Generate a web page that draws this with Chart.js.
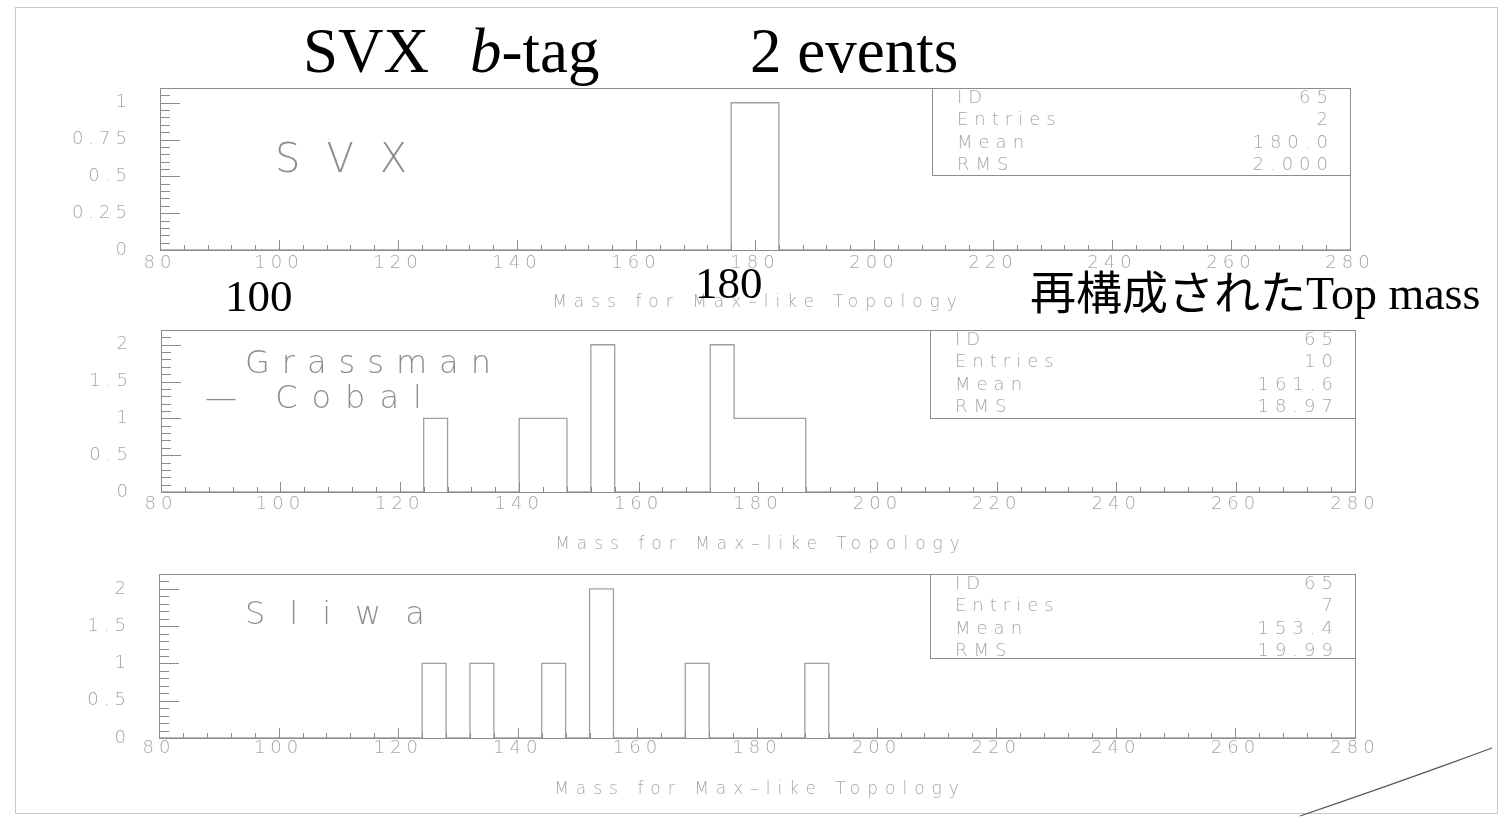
<!DOCTYPE html>
<html>
<head>
<meta charset="utf-8">
<script src="https://cdn.jsdelivr.net/npm/chart.js@4.4.1/dist/chart.umd.min.js"></script>
<style>
  html, body { margin: 0; padding: 0; background: #fff; }
  #page { position: relative; width: 1502px; height: 817px; overflow: hidden; background: #fff; }
  .sheet { position: absolute; left: 15px; top: 7px; width: 1483px; height: 807px; border: 1px solid #c8c8c8; box-sizing: border-box; }
  canvas.panel { position: absolute; left: 0; }
  .slide { position: absolute; font-family: "Liberation Serif", "Times New Roman", serif; color: #000; white-space: nowrap; line-height: 1; z-index: 5; }
  .slide .jp { font-family: "Noto Sans CJK JP", sans-serif; }
  .hand { position: absolute; font-family: "DejaVu Sans", sans-serif; font-weight: 200; color: #8e8e8e; white-space: nowrap; line-height: 1; z-index: 4; }
  svg.corner { position: absolute; left: 0; top: 0; z-index: 3; }
</style>
</head>
<body>
<div id="page">
  <div class="sheet"></div>

  <canvas id="panel-svx" class="panel" width="1502" height="242" style="top:78px"></canvas>
  <canvas id="panel-gc" class="panel" width="1502" height="242" style="top:320px"></canvas>
  <canvas id="panel-sliwa" class="panel" width="1502" height="244" style="top:564px"></canvas>

  <div class="slide" style="left:303px; top:20px; font-size:63px">SVX</div>
  <div class="slide" style="left:470px; top:20px; font-size:63px"><i>b</i>-tag</div>
  <div class="slide" style="left:750px; top:20px; font-size:63px">2 events</div>
  <div class="slide" style="left:225px; top:274px; font-size:45px">100</div>
  <div class="slide" style="left:695px; top:261px; font-size:45px">180</div>
  <div class="slide" style="left:1030px; top:266px; font-size:46px"><span class="jp">再構成された</span>Top mass</div>

  <div class="hand" style="left:275px; top:138px; font-size:40px; letter-spacing:26px">SVX</div>
  <div class="hand" style="left:245px; top:346px; font-size:32px; letter-spacing:12px">Grassman</div>
  <div class="hand" style="left:205px; top:381px; font-size:32px; letter-spacing:14px">— Cobal</div>
  <div class="hand" style="left:245px; top:597px; font-size:32px; letter-spacing:24px">Sliwa</div>

  <svg class="corner" width="1502" height="817">
    <path d="M1300 816 Q1400 782 1492 748" fill="none" stroke="#555" stroke-width="1.3"/>
  </svg>
</div>

<script>
// bin edges of the PAW histogram (4 GeV bins from 80 to 280)
const binEdges = [
  80, 84, 88, 92, 96, 100, 104, 108, 112, 116,
  120, 124, 128, 132, 136, 140, 144, 148, 152, 156,
  160, 164, 168, 172, 176, 180, 184, 188, 192, 196,
  200, 204, 208, 212, 216, 220, 224, 228, 232, 236,
  240, 244, 248, 252, 256, 260, 264, 268, 272, 276,
  280,
]

// entries per bin, one array per panel
const svxCounts = [
  0, 0, 0, 0, 0, 0, 0, 0, 0, 0,
  0, 0, 0, 0, 0, 0, 0, 0, 0, 0,
  0, 0, 0, 0, 1, 1, 0, 0, 0, 0,
  0, 0, 0, 0, 0, 0, 0, 0, 0, 0,
  0, 0, 0, 0, 0, 0, 0, 0, 0, 0,
]
const grassmanCobalCounts = [
  0, 0, 0, 0, 0, 0, 0, 0, 0, 0,
  0, 1, 0, 0, 0, 1, 1, 0, 2, 0,
  0, 0, 0, 2, 1, 1, 1, 0, 0, 0,
  0, 0, 0, 0, 0, 0, 0, 0, 0, 0,
  0, 0, 0, 0, 0, 0, 0, 0, 0, 0,
]
const sliwaCounts = [
  0, 0, 0, 0, 0, 0, 0, 0, 0, 0,
  0, 1, 0, 1, 0, 0, 1, 0, 2, 0,
  0, 0, 1, 0, 0, 0, 0, 1, 0, 0,
  0, 0, 0, 0, 0, 0, 0, 0, 0, 0,
  0, 0, 0, 0, 0, 0, 0, 0, 0, 0,
]

const statLabels = ["ID", "Entries", "Mean", "RMS"]
const svxStats = ["65", "2", "180.0", "2.000"]
const grassmanCobalStats = ["65", "10", "161.6", "18.97"]
const sliwaStats = ["65", "7", "153.4", "19.99"]

const xAxisTitle = "Mass for Max–like Topology"

const INK = {
  frame: "#8c8c8c",
  bar: "#a0a0a0",
  text: "#a6a6a6",
}
const PAW_FONT = { family: "'DejaVu Sans', sans-serif", size: 18, weight: "200" }
const PAW_CSS_FONT = "200 18px 'DejaVu Sans', sans-serif"

function histPoints(counts) {
  const pts = counts.map((c, i) => ({ x: binEdges[i], y: c }))
  pts.push({ x: binEdges[binEdges.length - 1], y: 0 })
  return pts
}

function fmt(v) {
  return String(Number(v.toFixed(2)))
}

// frame, inward PAW ticks, axis title and the statistics box
const pawFrame = {
  id: "pawFrame",
  beforeDraw(chart) {
    chart.ctx.letterSpacing = "5px"
  },
  afterDatasetsDraw(chart, _args, opts) {
    const { ctx, chartArea: a, scales } = chart
    const x = scales.x
    const y = scales.y
    ctx.save()
    ctx.strokeStyle = INK.frame
    ctx.lineWidth = 1
    ctx.strokeRect(a.left + 0.5, a.top + 0.5, a.right - a.left, a.bottom - a.top)

    ctx.beginPath()
    for (let v = x.min; v <= x.max; v += 4) {
      const px = Math.round(x.getPixelForValue(v)) + 0.5
      const len = v % 20 === 0 ? 10 : 5
      ctx.moveTo(px, a.bottom)
      ctx.lineTo(px, a.bottom - len)
    }
    const n = Math.round(y.max / opts.yMinor)
    for (let k = 0; k <= n; k++) {
      const py = Math.round(y.getPixelForValue(k * opts.yMinor)) + 0.5
      const len = k % 5 === 0 ? 20 : 10
      ctx.moveTo(a.left, py)
      ctx.lineTo(a.left + len, py)
    }
    ctx.stroke()

    ctx.fillStyle = INK.text
    ctx.textBaseline = "middle"

    // x axis title
    ctx.font = "200 17px 'DejaVu Sans', sans-serif"
    ctx.letterSpacing = "7px"
    ctx.textAlign = "center"
    ctx.fillText(xAxisTitle, (a.left + a.right) / 2 + 3, a.bottom + opts.titleGap)

    // statistics box
    const bx = a.right - opts.boxWidth
    ctx.strokeRect(Math.round(bx) + 0.5, a.top + 0.5, opts.boxWidth, opts.boxHeight)
    ctx.font = PAW_CSS_FONT
    ctx.letterSpacing = "6px"
    statLabels.forEach((label, i) => {
      const ty = a.top + 10 + i * 22.5
      ctx.textAlign = "left"
      ctx.fillText(label, bx + 25, ty)
      ctx.textAlign = "right"
      ctx.fillText(opts.stats[i], a.right - 16, ty)
    })
    ctx.restore()
  },
}

function createPanel(canvas, counts, cfg) {
  return new Chart(canvas, {
    type: "line",
    data: {
      datasets: [
        {
          data: histPoints(counts),
          stepped: "before",
          borderColor: INK.bar,
          borderWidth: 1.3,
          pointRadius: 0,
          fill: false,
        },
      ],
    },
    plugins: [pawFrame],
    options: {
      responsive: false,
      animation: false,
      events: [],
      layout: { padding: { top: 10, right: cfg.padRight, left: 0, bottom: 0 } },
      plugins: {
        legend: { display: false },
        tooltip: { enabled: false },
        pawFrame: {
          yMinor: cfg.yMinor,
          boxWidth: cfg.boxWidth,
          boxHeight: cfg.boxHeight,
          titleGap: cfg.titleGap,
          stats: cfg.stats,
        },
      },
      scales: {
        x: {
          type: "linear",
          min: 80,
          max: 280,
          afterFit: (s) => {
            s.height = 70
            s.paddingLeft = 0
            s.paddingRight = 0
          },
          grid: { display: false, drawTicks: false },
          border: { display: false },
          ticks: {
            stepSize: 20,
            autoSkip: false,
            maxRotation: 0,
            padding: cfg.labelPad,
            color: INK.text,
            font: PAW_FONT,
            callback: (v) => fmt(v),
          },
        },
        y: {
          min: 0,
          max: cfg.yMax,
          afterFit: (s) => {
            s.width = cfg.left
            s.paddingTop = 0
            s.paddingBottom = 0
          },
          grid: { display: false, drawTicks: false },
          border: { display: false },
          ticks: {
            stepSize: cfg.yStep,
            includeBounds: false,
            padding: 28,
            color: INK.text,
            font: PAW_FONT,
            callback: (v) => fmt(v),
          },
        },
      },
    },
  })
}

createPanel(document.getElementById("panel-svx"), svxCounts, {
  left: 160, padRight: 152, yMax: 1.1, yStep: 0.25, yMinor: 0.05,
  labelPad: 3, titleGap: 53, boxWidth: 418, boxHeight: 87, stats: svxStats,
})
createPanel(document.getElementById("panel-gc"), grassmanCobalCounts, {
  left: 161, padRight: 147, yMax: 2.2, yStep: 0.5, yMinor: 0.1,
  labelPad: 2, titleGap: 53, boxWidth: 425, boxHeight: 88, stats: grassmanCobalStats,
})
createPanel(document.getElementById("panel-sliwa"), sliwaCounts, {
  left: 159, padRight: 147, yMax: 2.2, yStep: 0.5, yMinor: 0.1,
  labelPad: 0, titleGap: 52, boxWidth: 425, boxHeight: 84, stats: sliwaStats,
})
</script>
</body>
</html>
